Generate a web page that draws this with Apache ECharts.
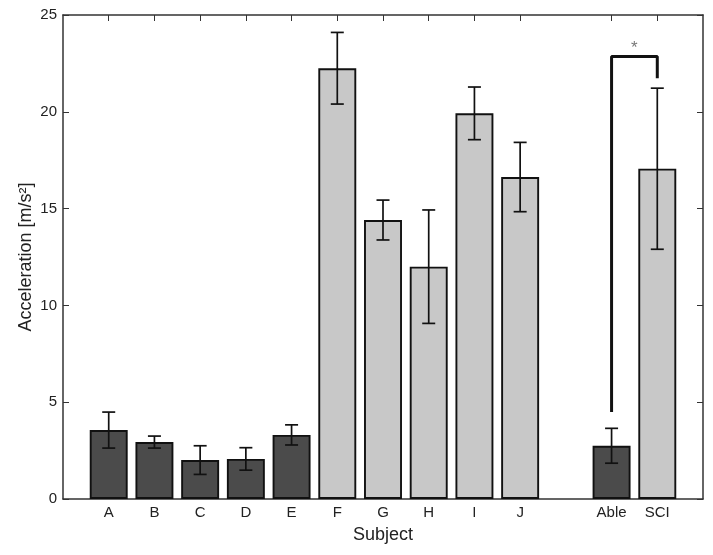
<!DOCTYPE html>
<html>
<head>
<meta charset="utf-8">
<script src="https://cdn.jsdelivr.net/npm/echarts@6/dist/echarts.min.js"></script>
<style>
  html, body { margin: 0; padding: 0; background: #fff; }
  #main { width: 713px; height: 555px; }
</style>
</head>
<body>
<div id="main"></div>
<script>
// subject data
var subjects = ['A', 'B', 'C', 'D', 'E', 'F', 'G', 'H', 'I', 'J', 'Able', 'SCI'];
var slots    = [1, 2, 3, 4, 5, 6, 7, 8, 9, 10, 12, 13];   // x slot on the 0..14 axis
var groups   = ['able', 'able', 'able', 'able', 'able', 'sci', 'sci', 'sci', 'sci', 'sci', 'able', 'sci'];
var means    = [3.56, 2.94, 2.01, 2.07, 3.31, 22.25, 14.41, 12.0, 19.92, 16.63, 2.75, 17.06];
var errs     = [0.93, 0.31, 0.74, 0.58, 0.52, 1.85, 1.03, 2.93, 1.36, 1.79, 0.9, 4.16];

// significance bracket Able vs SCI
var bracketX = [12, 12, 13, 13];
var bracketY = [4.5, 22.85, 22.85, 21.73];
var starPos  = [12.5, 23.3];

var groupColor = { able: '#4b4b4b', sci: '#c8c8c8' };
var font = '"Liberation Sans", Arial, sans-serif';

var barData = [];
var errData = [];
for (var i = 0; i < subjects.length; i++) {
    barData.push({
        value: [slots[i], means[i]],
        itemStyle: { color: groupColor[groups[i]] }
    });
    errData.push([slots[i], means[i] - errs[i], means[i] + errs[i]]);
}
var bracketData = [];
for (var k = 0; k < bracketX.length; k++) {
    bracketData.push([bracketX[k], bracketY[k]]);
}

function labelFor(v) {
    var idx = slots.indexOf(v);
    return idx >= 0 ? subjects[idx] : '';
}

// error bar with caps
function renderErr(params, api) {
    var x = api.value(0);
    var lo = api.coord([x, api.value(1)]);
    var hi = api.coord([x, api.value(2)]);
    var half = 6.5;
    var st = { stroke: '#111', lineWidth: 1.7 };
    return {
        type: 'group',
        children: [
            { type: 'line', shape: { x1: lo[0], y1: lo[1], x2: hi[0], y2: hi[1] }, style: st },
            { type: 'line', shape: { x1: lo[0] - half, y1: lo[1], x2: lo[0] + half, y2: lo[1] }, style: st },
            { type: 'line', shape: { x1: hi[0] - half, y1: hi[1], x2: hi[0] + half, y2: hi[1] }, style: st }
        ]
    };
}

var axLine = { show: true, onZero: false, lineStyle: { color: '#333', width: 1.5 } };

var myChart = echarts.init(document.getElementById('main'));
var option = {
    animation: false,
    backgroundColor: '#fff',
    grid: { left: 63, top: 15, right: 10, bottom: 56 },
    xAxis: [
        {
            type: 'value',
            min: 0,
            max: 14,
            interval: 1,
            position: 'bottom',
            name: 'Subject',
            nameLocation: 'middle',
            nameGap: 27,
            nameTextStyle: { fontFamily: font, fontSize: 18, color: '#222' },
            axisLine: axLine,
            axisTick: { show: true, inside: true, length: 6, customValues: slots, lineStyle: { color: '#333' } },
            axisLabel: {
                customValues: slots,
                formatter: labelFor,
                fontFamily: font, fontSize: 15, color: '#222', margin: 6
            },
            splitLine: { show: false }
        },
        {
            type: 'value',
            min: 0,
            max: 14,
            interval: 1,
            position: 'top',
            axisLine: axLine,
            axisTick: { show: true, inside: true, length: 6, customValues: slots, lineStyle: { color: '#333' } },
            axisLabel: { show: false },
            splitLine: { show: false }
        }
    ],
    yAxis: [
        {
            type: 'value',
            min: 0,
            max: 25,
            interval: 5,
            position: 'left',
            name: 'Acceleration [m/s²]',
            nameLocation: 'middle',
            nameGap: 28,
            nameMoveOverlap: false,
            nameTextStyle: { fontFamily: font, fontSize: 18, color: '#222' },
            axisLine: axLine,
            axisTick: { show: true, inside: true, length: 6, lineStyle: { color: '#333' } },
            axisLabel: { fontFamily: font, fontSize: 15, color: '#222', margin: 6 },
            splitLine: { show: false }
        },
        {
            type: 'value',
            min: 0,
            max: 25,
            interval: 5,
            position: 'right',
            axisLine: axLine,
            axisTick: { show: true, inside: true, length: 6, lineStyle: { color: '#333' } },
            axisLabel: { show: false },
            splitLine: { show: false }
        }
    ],
    series: [
        {
            name: 'mean',
            type: 'bar',
            barWidth: '83%',
            data: barData,
            itemStyle: { borderColor: '#111', borderWidth: 1.9 }
        },
        {
            name: 'sd',
            type: 'custom',
            renderItem: renderErr,
            encode: { x: 0, y: [1, 2] },
            data: errData,
            z: 3
        },
        {
            name: 'bracket',
            type: 'line',
            data: bracketData,
            symbol: 'none',
            lineStyle: { color: '#111', width: 3 },
            z: 4
        },
        {
            name: 'star',
            type: 'scatter',
            data: [starPos],
            symbolSize: 1,
            itemStyle: { color: 'rgba(0,0,0,0)' },
            label: {
                show: true,
                position: 'inside',
                formatter: '*',
                fontFamily: font,
                fontSize: 17,
                color: '#555'
            },
            z: 4
        }
    ]
};
myChart.setOption(option);
</script>
</body>
</html>
